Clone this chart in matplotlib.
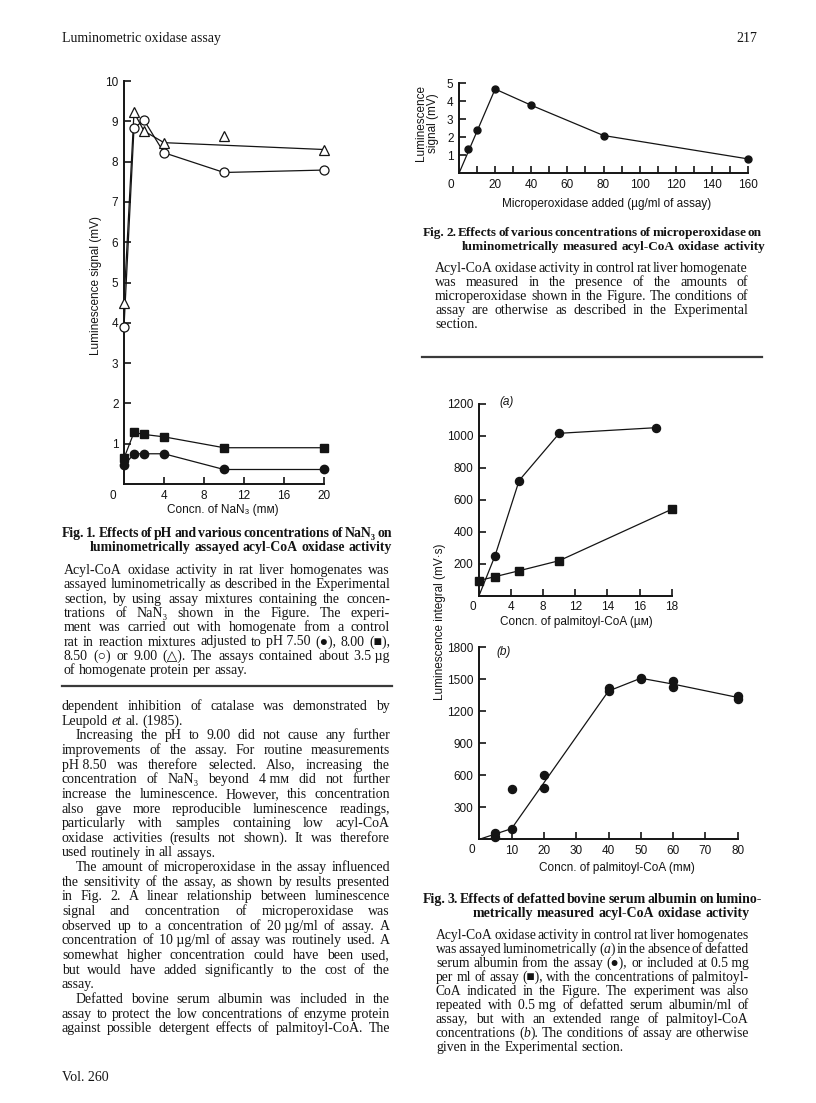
import numpy as np
import matplotlib
matplotlib.use('Agg')
import matplotlib.pyplot as plt
from matplotlib.font_manager import FontProperties

# ---------------- data ----------------
# Fig. 1 : NaN3 concentration (mM) vs luminescence signal (mV)
nan3_conc = [0, 1, 2, 4, 10, 20]
ph750 = [0.46, 0.75, 0.75, 0.75, 0.36, 0.36]
ph800 = [0.64, 1.28, 1.23, 1.17, 0.90, 0.90]
ph850 = [3.90, 8.83, 9.03, 8.22, 7.73, 7.79]
ph900 = [4.50, 9.22, 8.76, 8.47, 8.63, 8.30]
ph900_joined = [True, True, True, True, False, True]
fig1_xticks = [4, 8, 12, 16, 20]
fig1_yticks = [1, 2, 3, 4, 5, 6, 7, 8, 9, 10]

# Fig. 2 : microperoxidase (ug/ml) vs signal (mV)
mp_added = [5, 10, 20, 40, 80, 160]
mp_signal = [1.35, 2.40, 4.68, 3.78, 2.10, 0.80]
mp_line_x = [0, 20, 40, 80, 160]
mp_line_y = [0, 4.68, 3.78, 2.10, 0.80]
fig2_xticks = [20, 40, 60, 80, 100, 120, 140, 160]
fig2_yticks = [1, 2, 3, 4, 5]

# Fig. 3a : palmitoyl-CoA (uM) vs luminescence integral (mV.s)
pcoa_none = [2, 5, 10, 17]
int_none = [250, 720, 1015, 1050]
none_line_x = [0, 2, 5, 10, 17]
none_line_y = [0, 250, 720, 1015, 1050]
pcoa_alb = [0, 2, 5, 10, 18]
int_alb = [95, 119, 156, 219, 540]
fig3a_xtick_labels = [0, 4, 8, 12, 14, 16, 18]
fig3a_yticks = [200, 400, 600, 800, 1000, 1200]

# Fig. 3b : palmitoyl-CoA (mM) vs luminescence integral
pcoa_b = [5, 5, 10, 10, 20, 20, 40, 40, 50, 50, 60, 60, 80, 80]
int_b = [60, 25, 100, 470, 600, 480, 1420, 1390, 1515, 1500, 1480, 1430, 1345, 1320]
pcoa_b_line = [0, 10, 40, 50, 60, 80]
int_b_line = [0, 100, 1390, 1510, 1455, 1330]
fig3b_xticks = [10, 20, 30, 40, 50, 60, 70, 80]
fig3b_yticks = [300, 600, 900, 1200, 1500, 1800]

# ---------------- setup ----------------
W, H = 816, 1103
SERIF = ['Liberation Serif', 'DejaVu Serif']
SANS = ['Liberation Sans', 'DejaVu Sans']
plt.rcParams['font.family'] = SANS
INK = '#141414'
BODY = 10.0
AXF = 8.5
MIN_GAP = 0.42

fig = plt.figure(figsize=(W / 100, H / 100), dpi=100)
fig.patch.set_facecolor('white')
renderer = fig.canvas.get_renderer()


def text_w(s, fp):
    w, h, d = renderer.get_text_width_height_descent(s, fp, ismath=False)
    return w


def parse(word):
    parts = word.split('*')
    return [(p, i % 2 == 1) for i, p in enumerate(parts) if p]


def fprop(it, sz, weight):
    return FontProperties(family=SERIF, size=sz, weight=weight,
                          style='italic' if it else 'normal')


def measure(text, sz, weight):
    words = [parse(w) for w in text.split(' ') if w]
    seg_ws = [[text_w(s, fprop(it, sz, weight)) for s, it in w] for w in words]
    space = text_w('a a', fprop(False, sz, weight)) - text_w('aa', fprop(False, sz, weight))
    return words, seg_ws, space


def fit_size(text, width, size, weight):
    sz = size
    while sz > 6:
        words, seg_ws, space = measure(text, sz, weight)
        n = len(words)
        tot = sum(sum(a) for a in seg_ws)
        if n < 2 or (width - tot) / (n - 1) >= MIN_GAP * space:
            return sz
        sz -= 0.1
    return sz


def draw_line(text, x0, x1, yb, sz, weight='normal', mode='justify'):
    words, seg_ws, space = measure(text, sz, weight)
    n = len(words)
    tot = sum(sum(a) for a in seg_ws)
    if mode == 'justify' and n > 1:
        gap = (x1 - x0 - tot) / (n - 1)
    else:
        gap = space
    x = x0
    for w, sw in zip(words, seg_ws):
        for (s, it), w_ in zip(w, sw):
            fig.text(x / W, 1 - yb / H, s, fontproperties=fprop(it, sz, weight),
                     ha='left', va='baseline', color=INK)
            x += w_
        x += gap


def draw_block(lines, x0, x1, y_first, dy, size=BODY, weight='normal'):
    sz = size
    for t, mode, ind in lines:
        if mode == 'justify':
            sz = min(sz, fit_size(t, x1 - x0 - ind, size, weight))
    for i, (t, mode, ind) in enumerate(lines):
        draw_line(t, x0 + ind, x1, y_first + i * dy, sz, weight=weight, mode=mode)
    return sz


def make_ax(left, top, right, bottom):
    ax = fig.add_axes([left / W, 1 - bottom / H, (right - left) / W, (bottom - top) / H])
    ax.patch.set_alpha(0)
    for s in ('top', 'right'):
        ax.spines[s].set_visible(False)
    for s in ('left', 'bottom'):
        ax.spines[s].set_linewidth(1.4)
        ax.spines[s].set_color(INK)
    ax.tick_params(which='both', direction='in', length=5, width=1.2,
                   colors=INK, labelsize=AXF, pad=4)
    return ax


def origin_label(ax, dx, dy):
    ax.annotate('0', xy=(0, 0), xycoords='data', xytext=(dx, dy),
                textcoords='offset pixels', ha='center', va='top',
                fontsize=AXF, color=INK, annotation_clip=False)


LW = 0.9

# ---------------- header ----------------
fig.text(62 / W, 1 - 42 / H, 'Luminometric oxidase assay', family=SERIF, fontsize=BODY,
         ha='left', va='baseline', color=INK)
fig.text(757 / W, 1 - 42 / H, '217', family=SERIF, fontsize=BODY,
         ha='right', va='baseline', color=INK)

# ---------------- Fig. 1 ----------------
ax1 = make_ax(124, 81, 324, 484)
ax1.set_xlim(0, 20)
ax1.set_ylim(0, 10)
ax1.set_xticks(fig1_xticks)
ax1.set_yticks(fig1_yticks)
x = np.array(nan3_conc)
ax1.plot(x, ph750, '-', color=INK, lw=LW, zorder=2)
ax1.plot(x, ph750, 'o', ms=6, mfc=INK, mec=INK, clip_on=False, zorder=3)
ax1.plot(x, ph800, '-', color=INK, lw=LW, zorder=2)
ax1.plot(x, ph800, 's', ms=6, mfc=INK, mec=INK, clip_on=False, zorder=3)
ax1.plot(x, ph850, '-', color=INK, lw=LW, zorder=2)
ax1.plot(x, ph850, 'o', ms=6.5, mfc='white', mec=INK, mew=0.9, clip_on=False, zorder=3)
m = np.array(ph900_joined)
ax1.plot(x[m], np.array(ph900)[m], '-', color=INK, lw=LW, zorder=2)
ax1.plot(x, ph900, '^', ms=7, mfc='white', mec=INK, mew=0.9, clip_on=False, zorder=3)
origin_label(ax1, -11, -6)
fig.text(96 / W, 1 - 285 / H, 'Luminescence signal (mV)', rotation=90, ha='center',
         va='center', fontsize=AXF, color=INK)
fig.text(223 / W, 1 - 510 / H, 'Concn. of NaN\u2083 (m\u043c)', ha='center', va='center',
         fontsize=AXF, color=INK)

# ---------------- Fig. 2 ----------------
ax2 = make_ax(459, 83.3, 748, 173.3)
ax2.set_xlim(0, 160)
ax2.set_ylim(0, 5)
ax2.set_xticks(fig2_xticks)
ax2.set_xticks(np.arange(10, 160, 20), minor=True)
ax2.set_yticks(fig2_yticks)
ax2.plot(mp_line_x, mp_line_y, '-', color=INK, lw=LW, zorder=2)
ax2.plot(mp_added, mp_signal, 'o', ms=5, mfc=INK, mec=INK, clip_on=False, zorder=3)
origin_label(ax2, -8.5, -6)
fig.text(427 / W, 1 - 123 / H, 'Luminescence\nsignal (mV)', rotation=90, ha='center',
         va='center', multialignment='center', fontsize=AXF, linespacing=1.0, color=INK)
fig.text(607 / W, 1 - 204 / H, 'Microperoxidase added (\u00b5g/ml of assay)', ha='center',
         va='center', fontsize=AXF, color=INK)

# ---------------- Fig. 3a ----------------
xv = np.array(fig3a_xtick_labels, float)
pv = np.arange(len(xv), dtype=float)


def fwd(v):
    return np.interp(np.asarray(v, float), xv, pv)


def inv(v):
    return np.interp(np.asarray(v, float), pv, xv)


ax3 = make_ax(479, 403.7, 671.7, 595.7)
ax3.set_xscale('function', functions=(fwd, inv))
ax3.set_xlim(0, 18)
ax3.set_ylim(0, 1200)
ax3.set_xticks(fig3a_xtick_labels[1:])
ax3.set_xticklabels([str(v) for v in fig3a_xtick_labels[1:]])
ax3.set_xticks([], minor=True)
ax3.set_yticks(fig3a_yticks)
ax3.plot(none_line_x, none_line_y, '-', color=INK, lw=LW, zorder=2)
ax3.plot(pcoa_none, int_none, 'o', ms=5.8, mfc=INK, mec=INK, clip_on=False, zorder=3)
ax3.plot(pcoa_alb, int_alb, '-', color=INK, lw=LW, zorder=2)
ax3.plot(pcoa_alb, int_alb, 's', ms=5.6, mfc=INK, mec=INK, clip_on=False, zorder=3)
origin_label(ax3, -6.5, -5)
fig.text(507 / W, 1 - 402 / H, '(a)', style='italic', ha='center', va='center',
         fontsize=AXF, color=INK)
fig.text(576 / W, 1 - 622 / H, 'Concn. of palmitoyl-CoA (\u00b5\u043c)', ha='center',
         va='center', fontsize=AXF, color=INK)

# ---------------- Fig. 3b ----------------
ax4 = make_ax(479.3, 647.3, 737.7, 839.3)
ax4.set_xlim(0, 80)
ax4.set_ylim(0, 1800)
ax4.set_xticks(fig3b_xticks)
ax4.set_yticks(fig3b_yticks)
ax4.plot(pcoa_b_line, int_b_line, '-', color=INK, lw=LW, zorder=2)
ax4.plot(pcoa_b, int_b, 'o', ms=5.8, mfc=INK, mec=INK, clip_on=False, zorder=3)
origin_label(ax4, -7.5, -5)
fig.text(504 / W, 1 - 652 / H, '(b)', style='italic', ha='center', va='center',
         fontsize=AXF, color=INK)
fig.text(617 / W, 1 - 868 / H, 'Concn. of palmitoyl-CoA (m\u043c)', ha='center',
         va='center', fontsize=AXF, color=INK)
fig.text(440 / W, 1 - 622 / H, 'Luminescence integral (mV\u00b7s)', rotation=90,
         ha='center', va='center', fontsize=AXF, color=INK)

# ---------------- captions ----------------
J, L = 'justify', 'left'
NB = '\u00a0'


def title(l1, l2, x0, x1, x2, yb):
    sz = fit_size(l1, x1 - x0, BODY, 'bold')
    draw_line(l1, x0, x1, yb, sz, weight='bold')
    draw_line(l2, x2, x1, yb + 14, sz, weight='bold', mode=L)


# Fig 1 caption
title('Fig. 1. Effects of pH and various concentrations of NaN\u2083 on',
      'luminometrically assayed acyl-CoA oxidase activity', 62, 392, 90, 537)
draw_block([
    ('Acyl-CoA oxidase activity in rat liver homogenates was', J, 0),
    ('assayed luminometrically as described in the Experimental', J, 0),
    ('section, by using assay mixtures containing the concen-', J, 0),
    ('trations of NaN\u2083 shown in the Figure. The experi-', J, 0),
    ('ment was carried out with homogenate from a control', J, 0),
    ('rat in reaction mixtures adjusted to pH' + NB + '7.50 (\u25cf), 8.00 (\u25a0),', J, 0),
    ('8.50 (\u25cb) or 9.00 (\u25b3). The assays contained about 3.5' + NB + '\u00b5g', J, 0),
    ('of homogenate protein per assay.', L, 0),
], 64, 390, 574, 14.3)
fig.add_artist(plt.Line2D([62 / W, 392 / W], [1 - 686 / H, 1 - 686 / H], lw=1.6,
                          color='#3a3a3a'))

# Left column body text
draw_block([
    ('dependent inhibition of catalase was demonstrated by', J, 0),
    ('Leupold *et al.* (1985).', L, 0),
    ('Increasing the pH to 9.00 did not cause any further', J, 14),
    ('improvements of the assay. For routine measurements', J, 0),
    ('pH' + NB + '8.50 was therefore selected. Also, increasing the', J, 0),
    ('concentration of NaN\u2083 beyond 4' + NB + 'm\u043c did not further', J, 0),
    ('increase the luminescence. However, this concentration', J, 0),
    ('also gave more reproducible luminescence readings,', J, 0),
    ('particularly with samples containing low acyl-CoA', J, 0),
    ('oxidase activities (results not shown). It was therefore', J, 0),
    ('used routinely in all assays.', L, 0),
    ('The amount of microperoxidase in the assay influenced', J, 14),
    ('the sensitivity of the assay, as shown by results presented', J, 0),
    ('in Fig. 2. A linear relationship between luminescence', J, 0),
    ('signal and concentration of microperoxidase was', J, 0),
    ('observed up to a concentration of 20' + NB + '\u00b5g/ml of assay. A', J, 0),
    ('concentration of 10' + NB + '\u00b5g/ml of assay was routinely used. A', J, 0),
    ('somewhat higher concentration could have been used,', J, 0),
    ('but would have added significantly to the cost of the', J, 0),
    ('assay.', L, 0),
    ('Defatted bovine serum albumin was included in the', J, 14),
    ('assay to protect the low concentrations of enzyme protein', J, 0),
    ('against possible detergent effects of palmitoyl-CoA. The', J, 0),
], 62, 390, 710, 14.65)
fig.text(62 / W, 1 - 1081 / H, 'Vol. 260', family=SERIF, fontsize=BODY, ha='left',
         va='baseline', color=INK)

# Fig 2 caption
title('Fig. 2. Effects of various concentrations of microperoxidase on',
      'luminometrically measured acyl-CoA oxidase activity', 423, 762, 462, 236)
draw_block([
    ('Acyl-CoA oxidase activity in control rat liver homogenate', J, 0),
    ('was measured in the presence of the amounts of', J, 0),
    ('microperoxidase shown in the Figure. The conditions of', J, 0),
    ('assay are otherwise as described in the Experimental', J, 0),
    ('section.', L, 0),
], 435, 748, 272, 14.1)
fig.add_artist(plt.Line2D([422 / W, 762 / W], [1 - 357 / H, 1 - 357 / H], lw=1.6,
                          color='#3a3a3a'))

# Fig 3 caption
title('Fig. 3. Effects of defatted bovine serum albumin on lumino-',
      'metrically measured acyl-CoA oxidase activity', 423, 762, 473, 903)
draw_block([
    ('Acyl-CoA oxidase activity in control rat liver homogenates', J, 0),
    ('was assayed luminometrically (*a*) in the absence of defatted', J, 0),
    ('serum albumin from the assay (\u25cf), or included at 0.5' + NB + 'mg', J, 0),
    ('per ml of assay (\u25a0), with the concentrations of palmitoyl-', J, 0),
    ('CoA indicated in the Figure. The experiment was also', J, 0),
    ('repeated with 0.5' + NB + 'mg of defatted serum albumin/ml of', J, 0),
    ('assay, but with an extended range of palmitoyl-CoA', J, 0),
    ('concentrations (*b*). The conditions of assay are otherwise', J, 0),
    ('given in the Experimental section.', L, 0),
], 436, 749, 939, 13.96)

fig.savefig('out.png', dpi=100, facecolor='white')
